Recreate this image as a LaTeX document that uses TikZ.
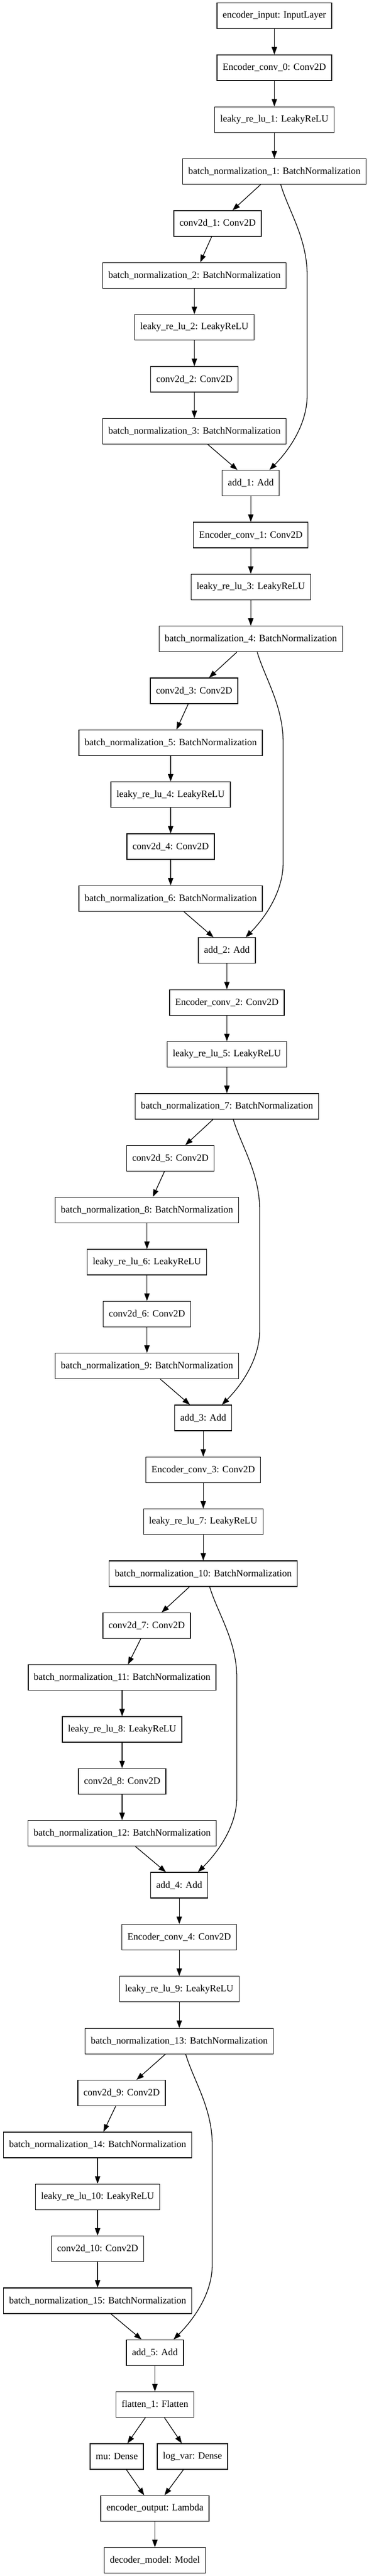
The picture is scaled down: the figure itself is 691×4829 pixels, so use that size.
\documentclass[tikz,border=0pt]{standalone}
\usepackage{fontspec}
\setmainfont{Liberation Serif}
\usetikzlibrary{arrows.meta, calc}

\newcommand\rk[1]{29.5+97.35*(#1)}

\begin{document}
\begin{tikzpicture}[x=1pt, y=-1pt,
  layer/.style={draw, line width=1.3pt, minimum height=48pt, inner xsep=10.5pt, inner ysep=0pt, font=\fontsize{18}{20}\selectfont},
  link/.style={line width=1.3pt, -{Triangle[length=14pt, width=10pt]}}]
\useasboundingbox (0,0) rectangle (691,4829);

\node[layer] (input) at (514.5, {\rk{0}}) {encoder\_input: InputLayer};

% one residual block per pass
\foreach \blk/\xm/\xc/\xb/\xa/\xs in {0/514.5/408/364.5/470.3/576,
    1/470.3/364/320/425.5/531, 2/425.5/319.5/275.6/381.2/487,
    3/381.2/275/229/336.2/444, 4/336.2/228/183/290.5/398}{
  \pgfmathtruncatemacro\rr{1+9*\blk}
  \pgfmathtruncatemacro\nA{2*\blk+1}
  \pgfmathtruncatemacro\nB{2*\blk+2}
  \pgfmathtruncatemacro\bA{3*\blk+1}
  \pgfmathtruncatemacro\bB{3*\blk+2}
  \pgfmathtruncatemacro\bC{3*\blk+3}
  \pgfmathtruncatemacro\nAdd{\blk+1}
  \node[layer] (enc\blk) at (\xm, {\rk{\rr}}) {Encoder\_conv\_\blk: Conv2D};
  \node[layer] (lrA\blk) at (\xm, {\rk{\rr+1}}) {leaky\_re\_lu\_\nA: LeakyReLU};
  \node[layer] (bnA\blk) at (\xm, {\rk{\rr+2}}) {batch\_normalization\_\bA: BatchNormalization};
  \node[layer] (cvA\blk) at (\xc, {\rk{\rr+3}}) {conv2d\_\nA: Conv2D};
  \node[layer] (bnB\blk) at (\xb, {\rk{\rr+4}}) {batch\_normalization\_\bB: BatchNormalization};
  \node[layer] (lrB\blk) at (\xb, {\rk{\rr+5}}) {leaky\_re\_lu\_\nB: LeakyReLU};
  \node[layer] (cvB\blk) at (\xb, {\rk{\rr+6}}) {conv2d\_\nB: Conv2D};
  \node[layer] (bnC\blk) at (\xb, {\rk{\rr+7}}) {batch\_normalization\_\bC: BatchNormalization};
  \node[layer] (add\blk) at (\xa, {\rk{\rr+8}}) {add\_\nAdd: Add};
  \draw[link] (enc\blk) -- (lrA\blk);
  \draw[link] (lrA\blk) -- (bnA\blk);
  \draw[link] ([xshift=-26]bnA\blk.south) -- ([xshift=28]cvA\blk.north);
  \draw[link] ([xshift=-11]cvA\blk.south) -- ([xshift=11]bnB\blk.north);
  \draw[link] (bnB\blk) -- (lrB\blk);
  \draw[link] (lrB\blk) -- (cvB\blk);
  \draw[link] (cvB\blk) -- (bnC\blk);
  \draw[link] ([xshift=25]bnC\blk.south) -- ([xshift=-25]add\blk.north);
  % skip connection
  \draw[link] ([xshift=12]bnA\blk.south) .. controls +(15,50) and +(0,-70) .. (\xs, {\rk{\rr+4}})
    -- (\xs, {\rk{\rr+6}+30}) .. controls +(0,60) and +(30,-30) .. ([xshift=35]add\blk.north);
}

\node[layer] (flat) at (290.5, {\rk{46}}) {flatten\_1: Flatten};
\node[layer] (mu) at (219, {\rk{47}}) {mu: Dense};
\node[layer] (logvar) at (361, {\rk{47}}) {log\_var: Dense};
\node[layer] (out) at (290.5, {\rk{48}}) {encoder\_output: Lambda};
\node[layer] (dec) at (290.5, {\rk{49}}) {decoder\_model: Model};

\draw[link] (input) -- (enc0);
\foreach \i/\j in {0/1, 1/2, 2/3, 3/4}
  \draw[link] (add\i.south) -- (add\i.south |- enc\j.north);
\draw[link] (add4) -- (flat);
\draw[link] ([xshift=-18]flat.south) -- ([xshift=20]mu.north);
\draw[link] ([xshift=18]flat.south) -- ([xshift=-20]logvar.north);
\draw[link] ([xshift=18]mu.south) -- ([xshift=-20]out.north);
\draw[link] ([xshift=-17]logvar.south) -- ([xshift=18]out.north);
\draw[link] (out) -- (dec);
\end{tikzpicture}
\end{document}
